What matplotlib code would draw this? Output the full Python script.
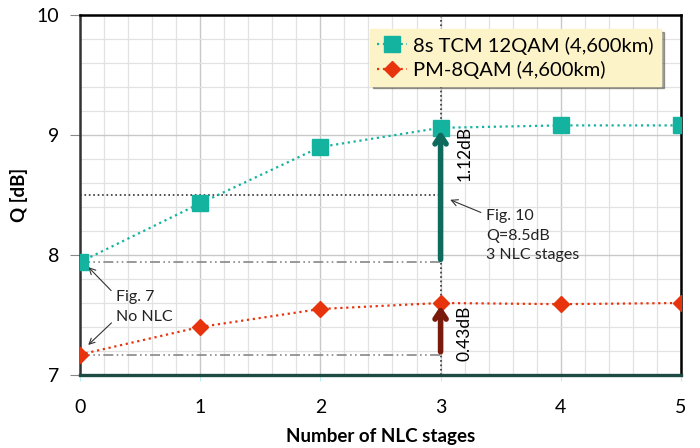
import matplotlib.pyplot as plt
from matplotlib.ticker import MultipleLocator

# data
stages = [0, 1, 2, 3, 4, 5]
q_tcm = [7.94, 8.43, 8.90, 9.06, 9.08, 9.08]
q_pm8 = [7.17, 7.40, 7.55, 7.60, 7.59, 7.60]
label_tcm = '8s TCM 12QAM (4,600km)'
label_pm8 = 'PM-8QAM (4,600km)'

teal = '#13b3a0'
red = '#e8340c'

plt.rcParams['font.family'] = ['Lato', 'DejaVu Sans']

fig = plt.figure(figsize=(7, 4.48), dpi=100)
ax = fig.add_axes([0.114, 0.163, 0.859, 0.8035])

ax.plot(stages, q_tcm, ':', color=teal, lw=1.6, marker='s', ms=11,
        label=label_tcm, zorder=5)
ax.plot(stages, q_pm8, ':', color=red, lw=1.6, marker='D', ms=8,
        label=label_pm8, zorder=5)

ax.set_xlim(0, 5)
ax.set_ylim(7, 10)
ax.xaxis.set_major_locator(MultipleLocator(1))
ax.yaxis.set_major_locator(MultipleLocator(1))
ax.xaxis.set_minor_locator(MultipleLocator(0.2))
ax.yaxis.set_minor_locator(MultipleLocator(0.2))
ax.grid(which='major', color='#c8c8c8', lw=1.0)
ax.grid(which='minor', color='#e2e2e2', lw=0.9)
ax.set_axisbelow(True)

ax.tick_params(axis='y', which='major', length=7, color='#888888',
               labelsize=14, pad=8)
ax.tick_params(axis='x', which='major', length=4, color='#bfeeee',
               labelsize=14, pad=13)
ax.tick_params(which='minor', length=0)

for side in ['top', 'right']:
    ax.spines[side].set_color('black')
    ax.spines[side].set_linewidth(1.8)
ax.spines['left'].set_color('#333333')
ax.spines['left'].set_linewidth(1.8)
ax.spines['bottom'].set_color('#1e4a44')
ax.spines['bottom'].set_linewidth(2.4)

ax.set_xlabel('Number of NLC stages', fontsize=13.5, fontweight='bold',
              labelpad=9)
ax.set_ylabel('Q [dB]', fontsize=13.5, fontweight='bold', labelpad=6)

# guide lines
ax.axvline(3, color='#333333', ls=':', lw=1.2, zorder=3)
ax.plot([0, 3], [8.5, 8.5], color='#333333', ls=':', lw=1.2, zorder=3)
ax.plot([0, 3], [q_tcm[0], q_tcm[0]], color='#888888', lw=1.2,
        ls=(0, (6, 2, 1, 2, 1, 2)), zorder=3)
ax.plot([0, 3], [q_pm8[0], q_pm8[0]], color='#888888', lw=1.2,
        ls=(0, (6, 2, 1, 2, 1, 2)), zorder=3)

# gain arrows
ax.annotate('', xy=(3, q_tcm[3]), xytext=(3, q_tcm[0]),
            arrowprops=dict(arrowstyle='->,head_length=0.6,head_width=0.4',
                            color='#0e6a5c', lw=4), zorder=6)
ax.annotate('', xy=(3, q_pm8[3]), xytext=(3, q_pm8[0]),
            arrowprops=dict(arrowstyle='->,head_length=0.6,head_width=0.4',
                            color='#7a1a0c', lw=4), zorder=6)
ax.text(3.2, 8.85, '%.2fdB' % (q_tcm[3] - q_tcm[0]), rotation=90,
        fontsize=12.5, ha='center', va='center')
ax.text(3.2, 7.35, '%.2fdB' % (q_pm8[3] - q_pm8[0]), rotation=90,
        fontsize=12.5, ha='center', va='center')

# callouts
ax.annotate('Fig. 7\nNo NLC', xy=(0.07, q_tcm[0] - 0.04), xytext=(0.3, 7.45),
            fontsize=11.5, linespacing=1.5, color='#222222',
            arrowprops=dict(arrowstyle='->', color='#333333', lw=0.8,
                            shrinkB=0, relpos=(0, 0.85)))
ax.annotate('', xy=(0.07, q_pm8[0] + 0.08), xytext=(0.28, 7.45),
            arrowprops=dict(arrowstyle='->', color='#333333', lw=0.8,
                            shrinkB=0))
ax.annotate('Fig. 10\nQ=8.5dB\n3 NLC stages', xy=(3.08, 8.46),
            xytext=(3.38, 8.38), va='top', fontsize=11.5, linespacing=1.5,
            color='#222222',
            arrowprops=dict(arrowstyle='->', color='#333333', lw=0.8,
                            shrinkB=0, relpos=(0, 0.9)))

leg = ax.legend(loc='upper left', bbox_to_anchor=(0.466, 0.988),
                fontsize=14.5, frameon=True, fancybox=False, shadow=True,
                borderpad=0.35, handlelength=1.5, handletextpad=0.3,
                labelspacing=0.3)
leg.get_frame().set_facecolor('#fdf3c8')
leg.get_frame().set_edgecolor('#fdf3c8')
leg.get_frame().set_alpha(1)

fig.savefig('out.png', dpi=100)
